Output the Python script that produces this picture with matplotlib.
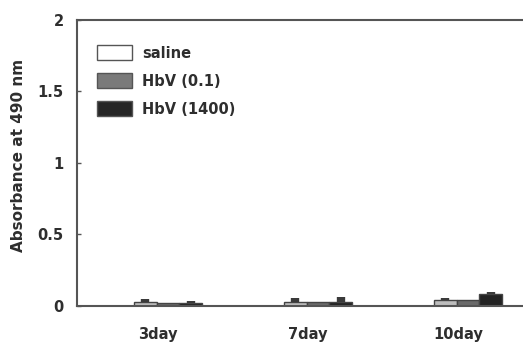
import numpy as np
import matplotlib.pyplot as plt
from matplotlib.patches import Patch

days = ["3day", "7day", "10day"]
series = ["saline", "HbV (0.1)", "HbV (1400)"]
saline = [0.028, 0.03, 0.04]
hbv_low = [0.022, 0.03, 0.04]
hbv_high = [0.02, 0.03, 0.085]
saline_err = [0.022, 0.028, 0.018]
hbv_low_err = [0.0, 0.0, 0.0]
hbv_high_err = [0.015, 0.03, 0.015]

plt.rcParams['font.family'] = ['DejaVu Sans']
txt = "#2e2e2e"

fig = plt.figure(figsize=(5.23, 3.43), dpi=100)
ax = fig.add_axes([0.1472, 0.1079, 0.8528, 0.8338])

x = np.arange(len(days))
w = 0.151
start = -0.16
cols = ["#bdbdbd", "#6a6a6a", "#222222"]
vals = [saline, hbv_low, hbv_high]
errs = [saline_err, hbv_low_err, hbv_high_err]
for i in range(3):
    ax.bar(x + start + w * (i + 0.5), vals[i], w, color=cols[i],
           edgecolor="#444444", linewidth=1.0)
    ax.errorbar(x + start + w * (i + 0.5), vals[i], yerr=[np.zeros(3), errs[i]],
                fmt="none", ecolor="#3a3a3a", elinewidth=6, capsize=0)

ax.set_xlim(-0.54, 2.433)
ax.set_ylim(0, 2)
ax.set_yticks([0, 0.5, 1, 1.5, 2])
ax.set_yticklabels(["0", "0.5", "1", "1.5", "2"])
ax.set_xticks(x)
ax.set_xticklabels(days)
ax.tick_params(axis="x", length=0, pad=15)
ax.tick_params(axis="y", direction="in", length=3, width=1, color="#555555", pad=9.5)
for lab in ax.get_xticklabels() + ax.get_yticklabels():
    lab.set_fontweight("bold")
    lab.set_fontsize(10.5)
    lab.set_color(txt)

for s in ["left", "top", "bottom"]:
    ax.spines[s].set_color("#555555")
    ax.spines[s].set_linewidth(1.5)
ax.spines["right"].set_visible(False)

ax.set_ylabel("Absorbance at 490 nm", fontsize=11, fontweight="bold", color=txt)
ax.yaxis.set_label_coords(-0.115, 0.528)

handles = [Patch(facecolor=c, edgecolor="#555555", linewidth=1.0) for c in ["white", "#7a7a7a", "#262626"]]
leg = ax.legend(handles, series, loc="upper left", bbox_to_anchor=(97 / 523, 1 - 45 / 343),
                bbox_transform=fig.transFigure, frameon=False, borderpad=0,
                handlelength=2.4, handleheight=1.25, handletextpad=0.7,
                labelspacing=0.85, borderaxespad=0,
                prop={"weight": "bold", "size": 10.5})
for t in leg.get_texts():
    t.set_color(txt)

fig.savefig("out.png", dpi=100)
